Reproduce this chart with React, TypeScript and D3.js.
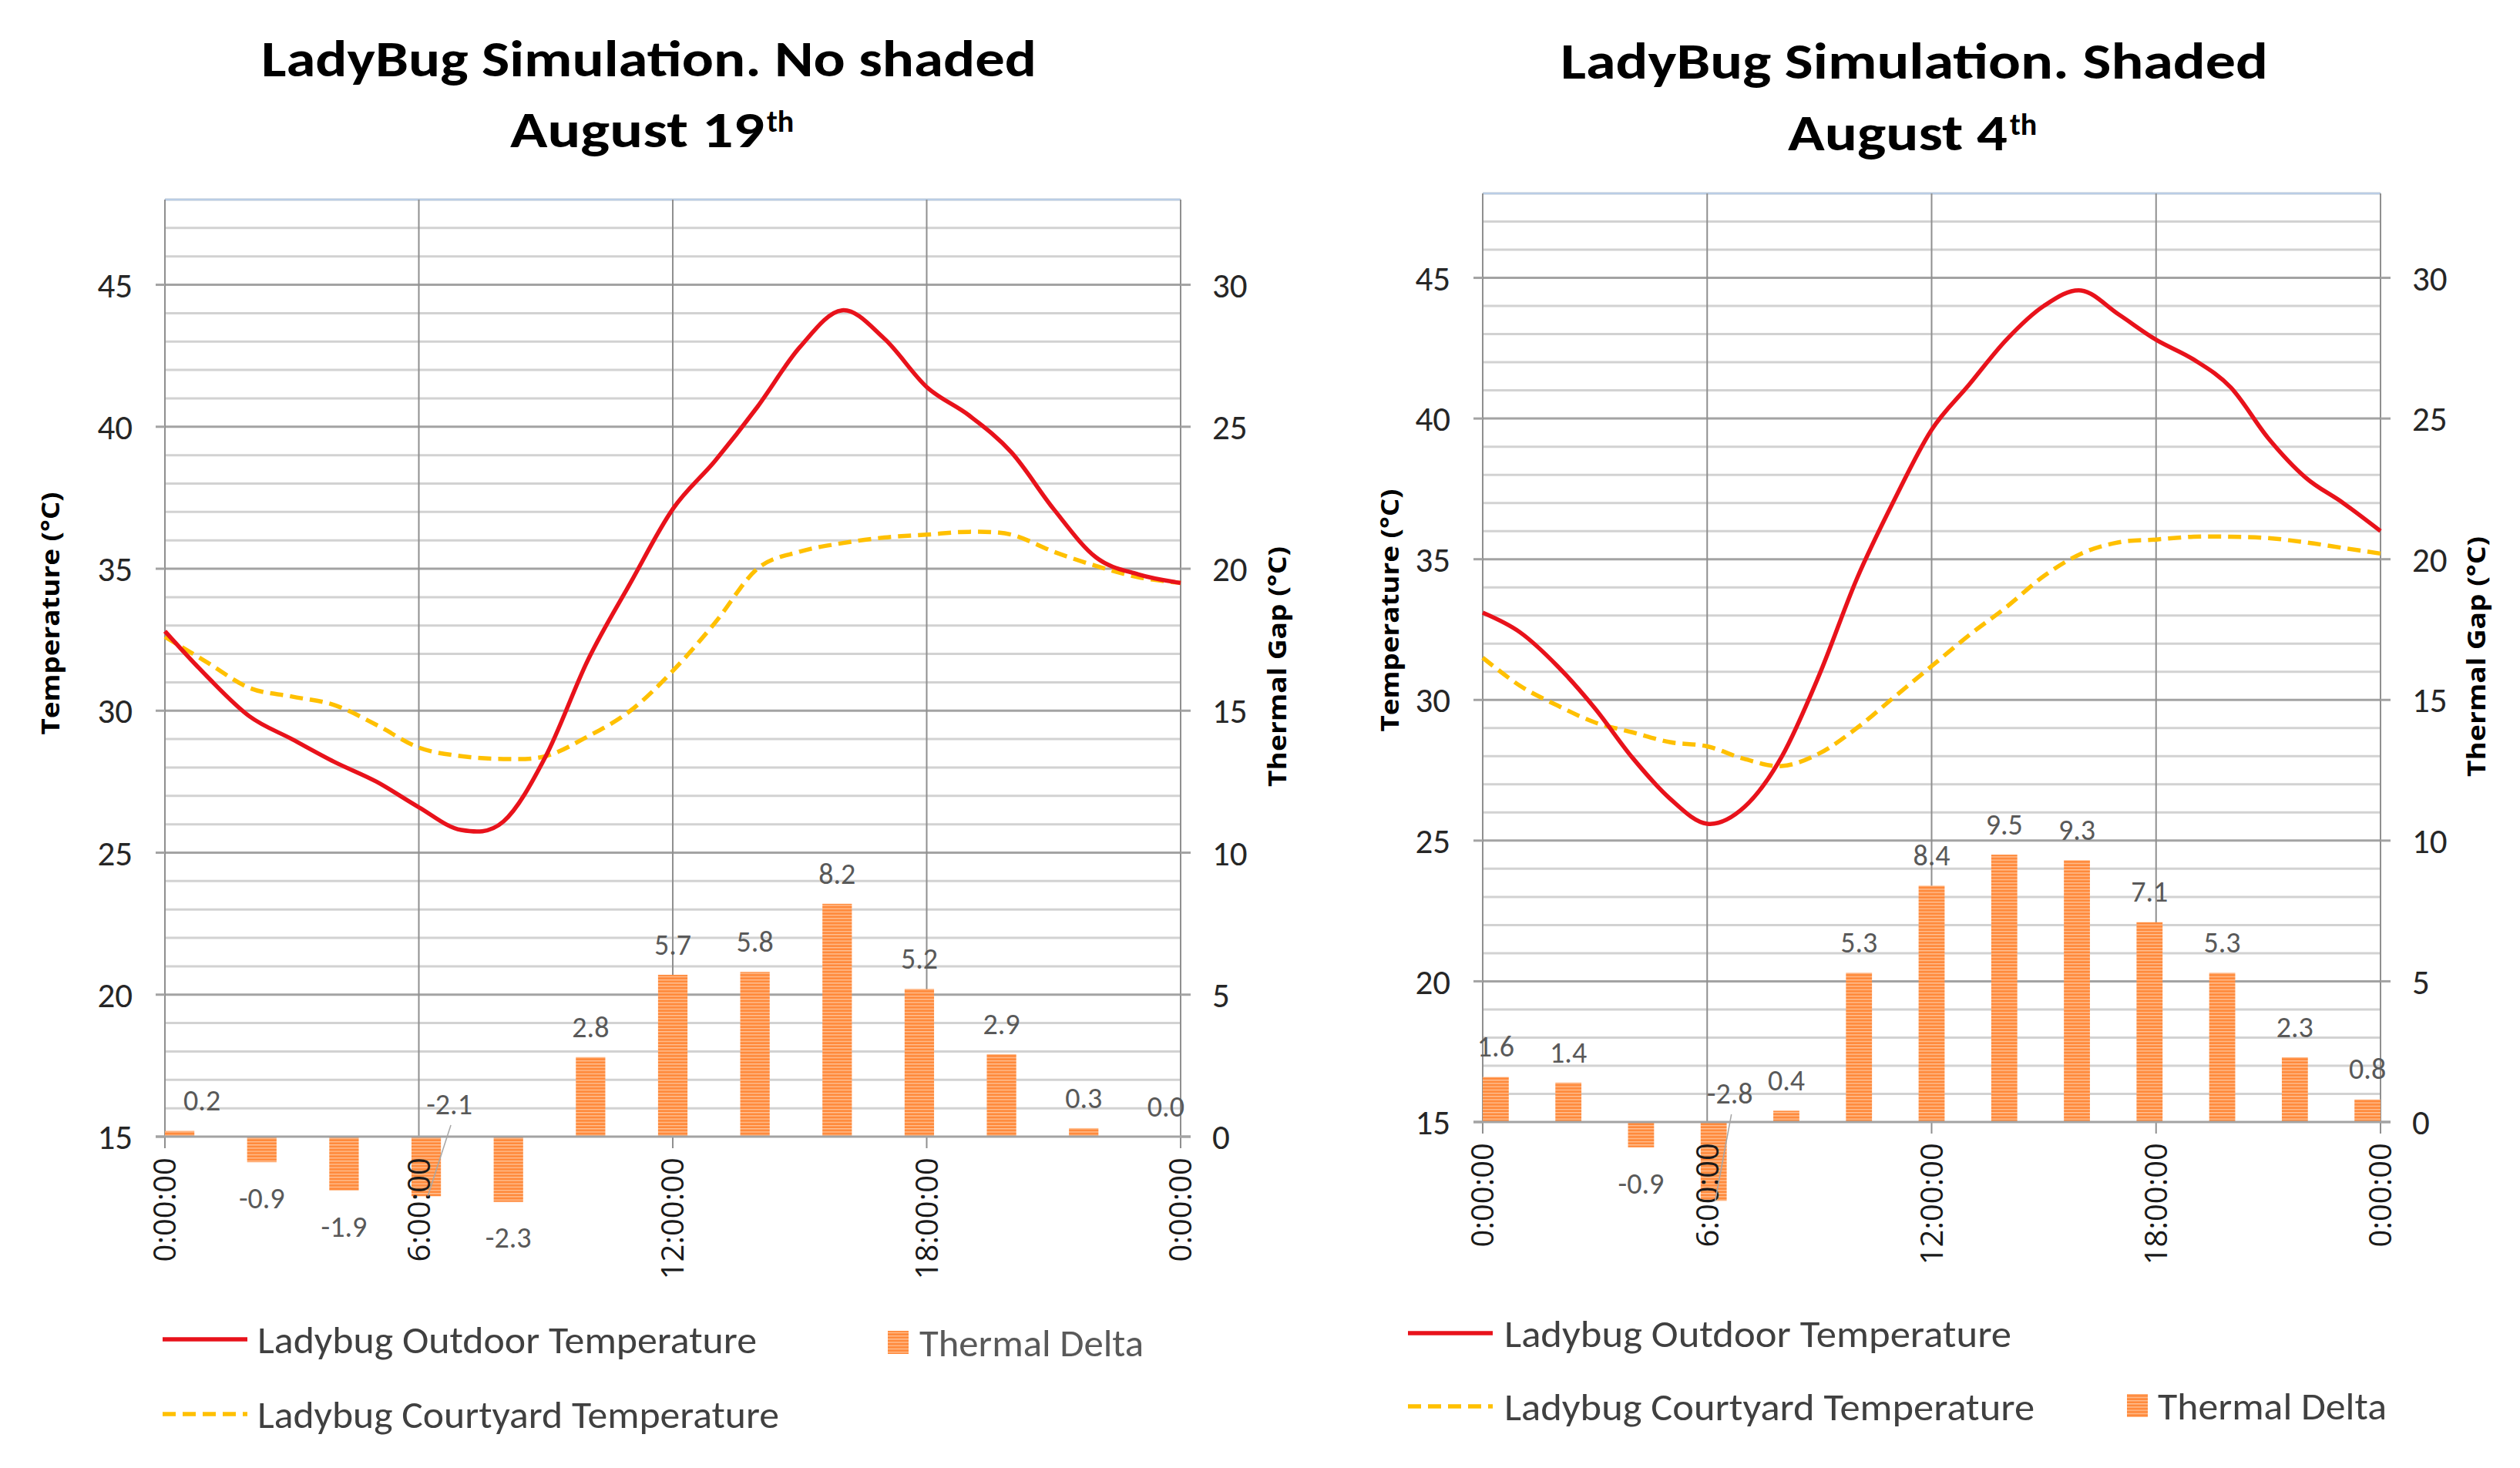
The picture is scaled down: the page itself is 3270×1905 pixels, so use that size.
import React from 'react';
import * as d3 from 'd3';

// hours of the day for the smoothed temperature lines
const hours = [0, 1, 2, 3, 4, 5, 6, 7, 8, 9, 10, 11, 12, 13, 14, 15, 16, 17, 18, 19, 20, 21, 22, 23, 24];
// bars are one every two hours
const barHours = [0, 2, 4, 6, 8, 10, 12, 14, 16, 18, 20, 22, 24];
const xTickHours = [0, 6, 12, 18, 24];
const xTickLabels = ['0:00:00', '6:00:00', '12:00:00', '18:00:00', '0:00:00'];
const tempTicks = [15, 20, 25, 30, 35, 40, 45];
const gapTicks = [0, 5, 10, 15, 20, 25, 30];

// August 19th, no shade
const noShadeOutdoor = [32.8, 31.2, 29.8, 29.0, 28.2, 27.5, 26.6, 25.8, 26.1, 28.4, 31.8, 34.5, 37.1, 38.8, 40.7, 42.8, 44.1, 43.1, 41.4, 40.4, 39.1, 37.1, 35.4, 34.8, 34.5];
const noShadeCourtyard = [32.6, 31.7, 30.8, 30.5, 30.2, 29.5, 28.7, 28.4, 28.3, 28.4, 29.1, 30.0, 31.4, 33.1, 35.0, 35.6, 35.9, 36.1, 36.2, 36.3, 36.2, 35.6, 35.1, 34.7, 34.5];
const noShadeDelta = [0.2, -0.9, -1.9, -2.1, -2.3, 2.8, 5.7, 5.8, 8.2, 5.2, 2.9, 0.3, 0.0];

// August 4th, shaded
const shadedOutdoor = [33.1, 32.4, 31.2, 29.7, 27.95, 26.5, 25.6, 26.2, 28.0, 30.9, 34.3, 37.1, 39.6, 41.2, 42.8, 44.0, 44.55, 43.7, 42.8, 42.1, 41.1, 39.3, 37.9, 37.0, 36.0];
const shadedCourtyard = [31.5, 30.5, 29.8, 29.2, 28.85, 28.5, 28.35, 27.9, 27.65, 28.1, 29.0, 30.1, 31.2, 32.3, 33.3, 34.4, 35.2, 35.6, 35.7, 35.8, 35.8, 35.75, 35.6, 35.4, 35.2];
const shadedDelta = [1.6, 1.4, -0.9, -2.8, 0.4, 5.3, 8.4, 9.5, 9.3, 7.1, 5.3, 2.3, 0.8];

const NARROW = "'Liberation Sans Narrow', 'Arial Narrow', Carlito, 'Liberation Sans', sans-serif";
const WIDE = "'Open Sans', 'Noto Sans', 'DejaVu Sans', sans-serif";
const RED = '#E8121B';
const YELLOW = '#FFC000';
const ORANGE = '#FF8A3C';

interface LegendItem {
  kind: 'line' | 'dash' | 'box';
  label: string;
  x: number; // start of symbol
  y: number; // symbol centre line
  textX: number;
  textW: number;
  color?: string;
}

interface PanelProps {
  id: string;
  outdoor: number[];
  courtyard: number[];
  delta: number[];
  plot: { left: number; right: number; top: number; bottom: number };
  title: { cx: number; y1: number; y2: number; w1: number; line1: string; line2: string; x2: number; w2: number; thX: number };
  leftTitle: { x: number; y: number };
  rightTitle: { x: number; y: number };
  legend: LegendItem[];
  labelDx: Record<number, number>;
  callout: { index: number; dx: number; dy: number };
}

// Excel writes negatives with a plain hyphen
const fmt = (v: number) => d3.format('.1f')(v).replace('\u2212', '-');

const Panel: React.FC<PanelProps> = ({ id, outdoor, courtyard, delta, plot, title, leftTitle, rightTitle, legend, labelDx, callout }) => {
  const { left, right, top, bottom } = plot;
  const x = d3.scaleLinear().domain([0, 24]).range([left, right]);
  const y = d3.scaleLinear().domain([15, 48]).range([bottom, top]);
  const y2 = d3.scaleLinear().domain([0, 33]).range([bottom, top]);
  const barW = (right - left) * 0.029;
  const xb = d3.scalePoint<number>().domain(barHours).range([left + barW / 2, right - barW / 2]);

  // uniform Catmull-Rom is close to Excel's "smoothed line"
  const line = d3
    .line<number>()
    .x((_, i) => x(hours[i]))
    .y(d => y(d))
    .curve(d3.curveCatmullRom.alpha(0));

  const minorTicks = d3.range(16, 49).filter(v => v % 5 !== 0);

  return (
    <g>
      <defs>
        <pattern id={`stripes-${id}`} width={8} height={4.2} patternUnits="userSpaceOnUse">
          <rect width={8} height={4.2} fill={ORANGE} />
          <rect y={2.6} width={8} height={1.2} fill="#FFC9A0" />
        </pattern>
      </defs>

      {/* title */}
      <text x={title.cx} y={title.y1} textAnchor="middle" fontFamily={NARROW} fontWeight="bold" fontSize={66}
        textLength={title.w1} lengthAdjust="spacingAndGlyphs" fill="#000">{title.line1}</text>
      <text x={title.x2} y={title.y2} fontFamily={NARROW} fontWeight="bold" fontSize={66}
        textLength={title.w2} lengthAdjust="spacingAndGlyphs" fill="#000">{title.line2}</text>
      <text x={title.thX} y={title.y2 - 20} fontFamily={NARROW} fontWeight="bold" fontSize={40} fill="#000">th</text>

      {/* grid */}
      {minorTicks.map(v => (
        <line key={`m${v}`} x1={left} x2={right} y1={y(v)} y2={y(v)} stroke="#D2D2D2" strokeWidth={3} />
      ))}
      {tempTicks.slice(1).map(v => (
        <line key={`M${v}`} x1={left} x2={right} y1={y(v)} y2={y(v)} stroke="#A3A3A3" strokeWidth={3} />
      ))}
      <line x1={left} x2={right} y1={top} y2={top} stroke="#B9CDE5" strokeWidth={2.5} />
      {xTickHours.map(h => (
        <line key={`v${h}`} x1={x(h)} x2={x(h)} y1={top} y2={bottom + 15} stroke="#8F8F8F" strokeWidth={2} />
      ))}

      {/* bars */}
      {delta.map((d, i) => {
        const y0 = y2(0);
        const y1 = y2(d);
        return (
          <rect key={`b${i}`} x={(xb(barHours[i]) as number) - barW / 2} width={barW}
            y={Math.min(y0, y1)} height={Math.abs(y1 - y0)} fill={`url(#stripes-${id})`} />
        );
      })}

      {/* base axis line and ticks */}
      <line x1={left - 12} x2={right + 13} y1={bottom} y2={bottom} stroke="#A3A3A3" strokeWidth={3} />
      {tempTicks.map(v => (
        <g key={`t${v}`}>
          <line x1={left - 12} x2={left} y1={y(v)} y2={y(v)} stroke="#A3A3A3" strokeWidth={3} />
          <line x1={right} x2={right + 13} y1={y(v)} y2={y(v)} stroke="#A3A3A3" strokeWidth={3} />
          <text x={left - 42} y={y(v)} dy="0.36em" textAnchor="end" fontFamily={NARROW} fontSize={45} fill="#262626">{v}</text>
        </g>
      ))}
      {gapTicks.map(v => (
        <text key={`g${v}`} x={right + 41} y={y2(v)} dy="0.36em" fontFamily={NARROW} fontSize={45} fill="#262626">{v}</text>
      ))}
      {xTickHours.map((h, i) => (
        <text key={`x${h}`} transform={`translate(${x(h)},${bottom + 27}) rotate(-90)`} dy="0.36em"
          textAnchor="end" fontFamily={WIDE} fontSize={40} fill="#1A1A1A">{xTickLabels[i]}</text>
      ))}

      {/* lines */}
      <path d={line(courtyard) ?? ''} fill="none" stroke={YELLOW} strokeWidth={5.5} strokeDasharray="17 9" />
      <path d={line(outdoor) ?? ''} fill="none" stroke={RED} strokeWidth={5.5} />

      {/* data labels */}
      {delta.map((d, i) => {
        const cx = xb(barHours[i]) as number;
        if (i === callout.index) {
          const lx = cx + callout.dx;
          const ly = y2(0) + callout.dy;
          return (
            <g key={`l${i}`}>
              <line x1={lx + 2} y1={ly + 28} x2={cx + 2} y2={y2(d)} stroke="#A6A6A6" strokeWidth={1.5} />
              <text x={lx} y={ly} dy="0.36em" textAnchor="middle" fontFamily={NARROW} fontSize={38} fill="#595959">{fmt(d)}</text>
            </g>
          );
        }
        const ly = d >= 0 ? y2(d) - 40 : y2(d) + 46;
        return (
          <text key={`l${i}`} x={cx + (labelDx[i] ?? 0)} y={ly} dy="0.36em" textAnchor="middle"
            fontFamily={NARROW} fontSize={38} fill="#595959">{fmt(d)}</text>
        );
      })}

      {/* axis titles */}
      <text transform={`translate(${leftTitle.x},${leftTitle.y}) rotate(-90)`} dy="0.36em" textAnchor="middle"
        fontFamily={WIDE} fontWeight="bold" fontSize={33} textLength={315} lengthAdjust="spacingAndGlyphs" fill="#000">Temperature (°C)</text>
      <text transform={`translate(${rightTitle.x},${rightTitle.y}) rotate(-90)`} dy="0.36em" textAnchor="middle"
        fontFamily={WIDE} fontWeight="bold" fontSize={33} textLength={312} lengthAdjust="spacingAndGlyphs" fill="#000">Thermal Gap (°C)</text>

      {/* legend */}
      {legend.map(item => (
        <g key={item.label}>
          {item.kind === 'line' && <line x1={item.x} x2={item.x + 110} y1={item.y} y2={item.y} stroke={RED} strokeWidth={5.5} />}
          {item.kind === 'dash' && <line x1={item.x} x2={item.x + 110} y1={item.y} y2={item.y} stroke={YELLOW} strokeWidth={5.5} strokeDasharray="17 9" />}
          {item.kind === 'box' && <rect x={item.x} y={item.y - 15} width={27} height={30} fill={`url(#stripes-${id})`} />}
          <text x={item.textX} y={item.y} dy="0.36em" fontFamily={NARROW} fontSize={50}
            textLength={item.textW} lengthAdjust="spacingAndGlyphs" fill={item.color ?? '#404040'}>{item.label}</text>
        </g>
      ))}
    </g>
  );
};

export default function App() {
  return (
    <div style={{ width: 3270, height: 1905, background: '#fff' }}>
      <style>{'body{margin:0}'}</style>
      <svg width={3270} height={1905} style={{ display: 'block' }}>
        <rect width={3270} height={1905} fill="#fff" />
        <Panel
          id="a"
          outdoor={noShadeOutdoor}
          courtyard={noShadeCourtyard}
          delta={noShadeDelta}
          plot={{ left: 214, right: 1532, top: 259, bottom: 1475 }}
          title={{ cx: 842, y1: 99, y2: 191, w1: 1006, line1: 'LadyBug Simulation. No shaded', line2: 'August 19', x2: 662, w2: 330, thX: 995 }}
          leftTitle={{ x: 65, y: 796 }}
          rightTitle={{ x: 1657, y: 865 }}
          labelDx={{ 0: 29 }}
          callout={{ index: 3, dx: 30, dy: -43 }}
          legend={[
            { kind: 'line', label: 'Ladybug Outdoor Temperature', x: 211, y: 1738, textX: 334, textW: 648 },
            { kind: 'box', label: 'Thermal Delta', x: 1152, y: 1742, textX: 1193, textW: 291, color: '#595959' },
            { kind: 'dash', label: 'Ladybug Courtyard Temperature', x: 211, y: 1835, textX: 334, textW: 677 },
          ]}
        />
        <Panel
          id="b"
          outdoor={shadedOutdoor}
          courtyard={shadedCourtyard}
          delta={shadedDelta}
          plot={{ left: 1924, right: 3089, top: 251, bottom: 1456 }}
          title={{ cx: 2484, y1: 102, y2: 195, w1: 918, line1: 'LadyBug Simulation. Shaded', line2: 'August 4', x2: 2320, w2: 285, thX: 2608 }}
          leftTitle={{ x: 1803, y: 792 }}
          rightTitle={{ x: 3213, y: 852 }}
          labelDx={{}}
          callout={{ index: 3, dx: 21, dy: -38 }}
          legend={[
            { kind: 'line', label: 'Ladybug Outdoor Temperature', x: 1827, y: 1730, textX: 1952, textW: 658 },
            { kind: 'dash', label: 'Ladybug Courtyard Temperature', x: 1827, y: 1825, textX: 1952, textW: 688 },
            { kind: 'box', label: 'Thermal Delta', x: 2760, y: 1824, textX: 2800, textW: 297 },
          ]}
        />
      </svg>
    </div>
  );
}
